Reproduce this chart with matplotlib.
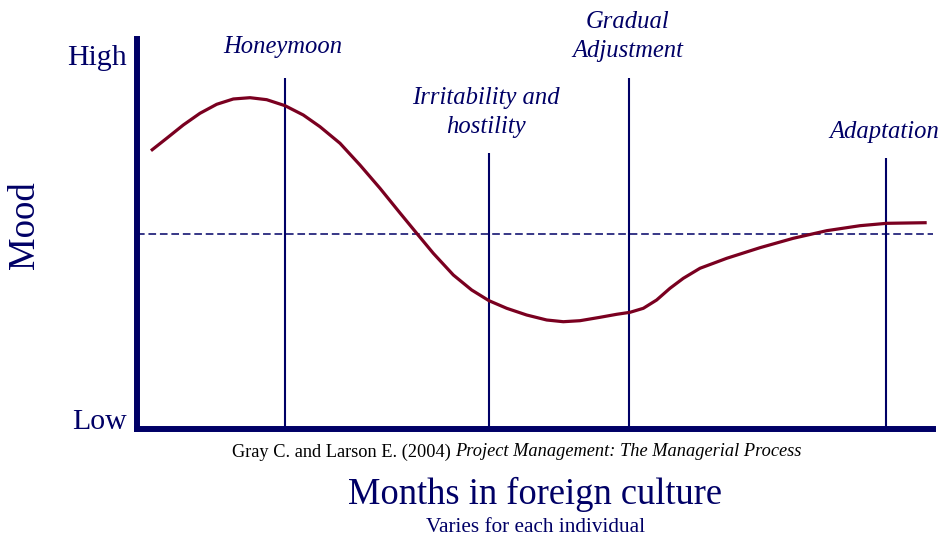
import matplotlib
matplotlib.use("Agg")
import matplotlib.pyplot as plt

# culture shock curve (x: months, y: mood 0=Low .. 10=High)
months = [0.175, 0.372, 0.580, 0.789, 0.999, 1.207, 1.416, 1.625, 1.855,
          2.084, 2.293, 2.544, 2.794, 3.045, 3.296, 3.505, 3.713, 3.964,
          4.194, 4.411, 4.633, 4.883, 5.134, 5.342, 5.551, 5.802, 6.011,
          6.178, 6.345, 6.512, 6.679, 6.846, 7.055, 7.390, 7.807, 8.224,
          8.643, 9.060, 9.395, 9.896]
mood = [7.136, 7.454, 7.795, 8.095, 8.326, 8.462, 8.495, 8.444, 8.290,
        8.051, 7.751, 7.326, 6.769, 6.172, 5.538, 5.018, 4.505, 3.949,
        3.564, 3.290, 3.095, 2.923, 2.795, 2.751, 2.777, 2.864, 2.941,
        2.992, 3.095, 3.308, 3.608, 3.864, 4.121, 4.377, 4.649, 4.890,
        5.085, 5.213, 5.274, 5.290]

stage_names = ["Honeymoon", "Irritability and\nhostility", "Gradual\nAdjustment", "Adaptation"]
stage_x = [1.86, 4.41, 6.17, 9.39]
stage_top = [9.0, 7.08, 9.0, 6.95]
label_x = [1.83, 4.37, 6.15, 9.37]
label_y = [9.79, 8.12, 10.06, 7.61]
baseline = 5.0

NAVY = "#000066"
CURVE = "#7a0020"
FONT = "Liberation Serif"

fig = plt.figure(figsize=(9.43, 5.40), dpi=100)
ax = fig.add_axes([137 / 943, 111 / 540, 796 / 943, 390 / 540])
ax.set_xlim(0, 796 / 79.8)
ax.set_ylim(0, 10)

for side in ["top", "right"]:
    ax.spines[side].set_visible(False)
for side in ["left", "bottom"]:
    ax.spines[side].set_color(NAVY)
    ax.spines[side].set_linewidth(4.3)
ax.set_xticks([])
ax.set_yticks([])

# baseline mood
ax.axhline(baseline, color=NAVY, lw=1.1, linestyle=(0, (5, 2.5)))

# stage markers
for x, top in zip(stage_x, stage_top):
    ax.vlines(x, 0, top, color=NAVY, lw=1.5)

ax.plot(months, mood, color=CURVE, lw=2.3, solid_joinstyle="round",
        solid_capstyle="butt", zorder=5)

for name, x, y in zip(stage_names, label_x, label_y):
    ax.text(x, y, name, ha="center", va="center", color=NAVY, fontsize=17.7,
            style="italic", family=FONT, linespacing=1.42, clip_on=False)

ax.text(-0.125, 9.51, "High", ha="right", va="center", color=NAVY,
        fontsize=21.5, family=FONT, clip_on=False)
ax.text(-0.125, 0.18, "Low", ha="right", va="center", color=NAVY,
        fontsize=21.5, family=FONT, clip_on=False)

fig.text(25 / 943, 1 - 225 / 540, "Mood", rotation=90, ha="center",
         va="center", color=NAVY, fontsize=26.5, family=FONT)

fig.text(451 / 943, 1 - 452 / 540, "Gray C. and Larson E. (2004)", ha="right",
         va="center", color="black", fontsize=13.2, family=FONT)
fig.text(455 / 943, 1 - 452 / 540, "Project Management: The Managerial Process",
         ha="left", va="center", color="black", fontsize=13.2, family=FONT,
         style="italic")
fig.text(535 / 943, 1 - 494 / 540, "Months in foreign culture", ha="center",
         va="center", color=NAVY, fontsize=26.3, family=FONT)
fig.text(536 / 943, 1 - 528 / 540, "Varies for each individual", ha="center",
         va="center", color=NAVY, fontsize=15.3, family=FONT)

fig.savefig("out.png", dpi=100, facecolor="white")
